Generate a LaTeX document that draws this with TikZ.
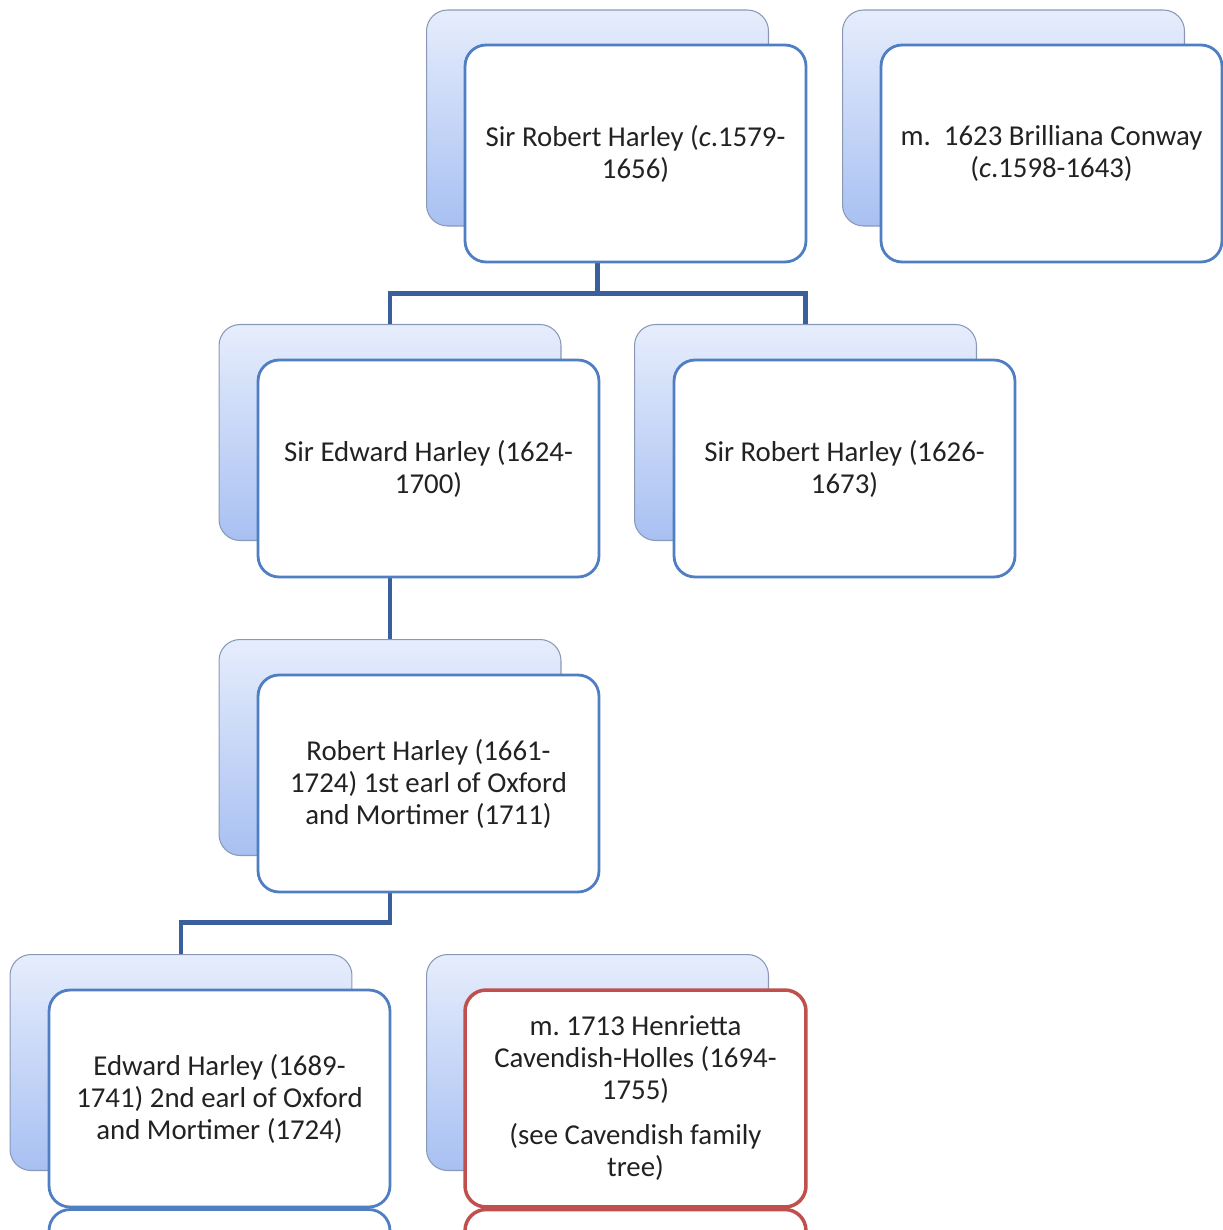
\documentclass[tikz,border=0pt]{standalone}
\usepackage{fontspec}
\setmainfont{Carlito}
\definecolor{frontblue}{HTML}{4F7EC2}
\definecolor{connblue}{HTML}{3B5E9C}
\definecolor{frontred}{HTML}{C0504D}
\definecolor{backtop}{HTML}{E6EDFC}
\definecolor{backbot}{HTML}{A8C0F2}
\definecolor{backedge}{HTML}{8A98B8}
\definecolor{txt}{HTML}{222222}
\begin{document}
\begin{tikzpicture}[x=0.02cm,y=-0.02cm,
  backbox/.style={rectangle, rounded corners=0.42cm, minimum width=6.84cm, minimum height=4.32cm,
    top color=backtop, bottom color=backbot, draw=backedge, line width=0.6pt},
  frontbox/.style={rectangle, rounded corners=0.42cm, minimum width=6.82cm, minimum height=4.34cm,
    fill=white, draw=frontblue, line width=1.6pt, align=center, text=txt,
    font=\fontsize{16.4pt}{18.2pt}\selectfont},
  redbox/.style={frontbox, draw=frontred, line width=2pt},
  conn/.style={draw=connblue, line width=2.6pt}]
\useasboundingbox (0,0) rectangle (1223,1230);
\clip (0,0) rectangle (1223,1230);
% back cards
\node[backbox] (topB) at (597.5,118) {};
\node[backbox] (wifeB) at (1013.5,118) {};
\node[backbox] (edB) at (390,432.5) {};
\node[backbox] (robB) at (805.5,432.5) {};
\node[backbox] (oxB) at (390,747.5) {};
\node[backbox] (ed2B) at (181,1062.5) {};
\node[backbox] (henB) at (597.5,1062.5) {};
% connectors
\draw[conn] (topB.south |- 0,262) coordinate (c1) -- (c1 |- 0,293.5) coordinate (c2);
\draw[conn] (c2) -| (edB.north);
\draw[conn] (c2) -| (robB.north);
\draw[conn] (edB.south |- 0,577) -- (oxB.north);
\draw[conn] (oxB.south |- 0,891) coordinate (c3) -- (c3 |- 0,922.5) coordinate (c4) -| (ed2B.north);
% front cards
\node[frontbox] (top) at (635.5,153.5) {Sir Robert Harley (\textit{c}.1579-\\1656)};
\node[frontbox] (wife) at (1051.5,153.5) {m.\ \ 1623 Brilliana Conway\\(\textit{c}.1598-1643)};
\node[frontbox] (ed) at (428.5,468.5) {Sir Edward Harley (1624-\\1700)};
\node[frontbox] (rob) at (844.5,468.5) {Sir Robert Harley (1626-\\1673)};
\node[frontbox] (ox) at (428.5,783.5) {Robert Harley (1661-\\1724) 1st earl of Oxford\\and Mortimer (1711)};
\node[frontbox] (ed2) at (219.5,1098.5) {Edward Harley (1689-\\1741) 2nd earl of Oxford\\and Mortimer (1724)};
\node[redbox] (hen) at (635.5,1098.5) {m.\ 1713 Henrietta\\Cavendish-Holles (1694-\\1755)\\[7.4pt](see Cavendish family\\tree)};
% reflections of the cards, cut at the lower edge
\node[frontbox] (ed2R) at (219.5,1318) {};
\node[redbox] (henR) at (635.5,1318) {};
\end{tikzpicture}
\end{document}
